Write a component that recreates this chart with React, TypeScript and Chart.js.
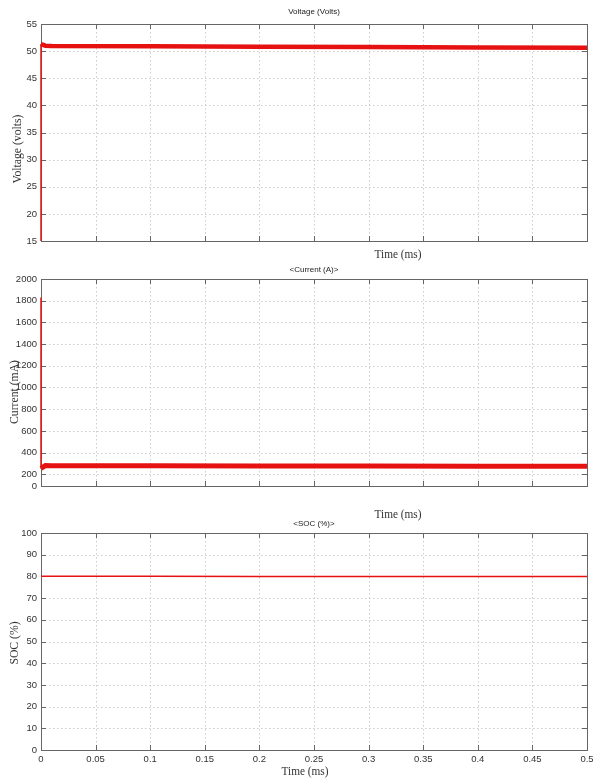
import React, { useEffect, useRef } from 'react';
import { Chart, registerables } from 'chart.js';

Chart.register(...registerables);

// ---- data ----
const timeTicks = [0, 0.05, 0.1, 0.15, 0.2, 0.25, 0.3, 0.35, 0.4, 0.45, 0.5];
const voltageTicks = [15, 20, 25, 30, 35, 40, 45, 50, 55];
const currentTicks = [0, 200, 400, 600, 800, 1000, 1200, 1400, 1600, 1800, 2000];
const socTicks = [0, 10, 20, 30, 40, 50, 60, 70, 80, 90, 100];

const voltageStartTime = [0, 0];
const voltageStartValues = [15, 51.3];
const voltageTime = [0, 0.004, 0.01, 0.1, 0.2, 0.3, 0.4, 0.5];
const voltageValues = [51.3, 51.0, 50.95, 50.9, 50.82, 50.75, 50.68, 50.6];

const currentStartTime = [0, 0];
const currentStartValues = [1830, 250];
const currentTime = [0, 0.004, 0.01, 0.1, 0.2, 0.3, 0.4, 0.5];
const currentValues = [255, 280, 279, 278, 277, 276, 275, 274];

const socTime = [0, 0.1, 0.2, 0.3, 0.4, 0.5];
const socValues = [80.05, 80.02, 80.0, 79.97, 79.94, 79.9];

const currentAxisMin = 92;

const W = 593;
const H = 781;
const RED = 'rgb(230,18,18)';
const SERIF = '"Liberation Serif", "Times New Roman", serif';
const SANS = '"Liberation Sans", Arial, sans-serif';

type Spec = {
  top: number;
  bottom: number;
  yMin: number;
  yMax: number;
  yTicks: number[];
  showX: boolean;
  title: string;
  titleY: number;
  yTitle: string;
  yTitleX: number;
  yTitleY: number;
  xTitle: string;
  xTitleX: number;
  xTitleY: number;
  datasets: any[];
};

function pts(xs: number[], ys: number[]) {
  return xs.map((x, i) => ({ x, y: ys[i] }));
}

function framePlugin(spec: Spec) {
  return {
    id: 'matlabFrame',
    beforeDatasetsDraw(chart: any) {
      const { ctx, chartArea } = chart;
      const { left, right, top, bottom } = chartArea;
      const xs = chart.scales.x;
      const ys = chart.scales.y;
      ctx.save();
      // dotted grid
      ctx.strokeStyle = '#cdcdcd';
      ctx.lineWidth = 1;
      ctx.setLineDash([1.5, 2.5]);
      timeTicks.forEach((t) => {
        const px = Math.round(xs.getPixelForValue(t)) + 0.5;
        if (px <= left + 1 || px >= right - 1) return;
        ctx.beginPath();
        ctx.moveTo(px, top);
        ctx.lineTo(px, bottom);
        ctx.stroke();
      });
      ys.ticks.forEach((tk: any) => {
        const py = Math.round(ys.getPixelForValue(tk.value)) + 0.5;
        if (py <= top + 1 || py >= bottom - 1) return;
        ctx.beginPath();
        ctx.moveTo(left, py);
        ctx.lineTo(right, py);
        ctx.stroke();
      });
      ctx.setLineDash([]);
      // box
      ctx.strokeStyle = '#666';
      ctx.lineWidth = 1;
      ctx.strokeRect(Math.round(left) + 0.5, Math.round(top) + 0.5, Math.round(right - left), Math.round(bottom - top));
      // inward ticks
      const tl = 5;
      ctx.beginPath();
      timeTicks.forEach((t) => {
        const px = Math.round(xs.getPixelForValue(t)) + 0.5;
        if (px <= left + 1 || px >= right - 1) return;
        ctx.moveTo(px, bottom);
        ctx.lineTo(px, bottom - tl);
        ctx.moveTo(px, top);
        ctx.lineTo(px, top + tl);
      });
      ys.ticks.forEach((tk: any) => {
        const py = Math.round(ys.getPixelForValue(tk.value)) + 0.5;
        if (py <= top + 1 || py >= bottom - 1) return;
        ctx.moveTo(left, py);
        ctx.lineTo(left + tl, py);
        ctx.moveTo(right, py);
        ctx.lineTo(right - tl, py);
      });
      ctx.stroke();
      ctx.restore();
    },
    afterDraw(chart: any) {
      const { ctx, chartArea } = chart;
      const cx = (chartArea.left + chartArea.right) / 2;
      ctx.save();
      ctx.fillStyle = '#222';
      ctx.textAlign = 'center';
      ctx.textBaseline = 'middle';
      ctx.font = `8px ${SANS}`;
      ctx.fillText(spec.title, cx, spec.titleY);
      ctx.font = `13px ${SERIF}`;
      ctx.fillStyle = '#333';
      ctx.save();
      ctx.translate(spec.xTitleX, spec.xTitleY);
      ctx.scale(0.87, 1);
      ctx.fillText(spec.xTitle, 0, 0);
      ctx.restore();
      ctx.translate(spec.yTitleX, spec.yTitleY);
      ctx.rotate(-Math.PI / 2);
      ctx.scale(0.9, 1);
      ctx.fillText(spec.yTitle, 0, 0);
      ctx.restore();
    },
  };
}

function makeConfig(spec: Spec): any {
  const xH = spec.showX ? 20 : 0;
  return {
    type: 'line',
    data: { datasets: spec.datasets },
    options: {
      responsive: false,
      animation: false,
      events: [],
      layout: {
        padding: { left: 0, right: W - 587, top: spec.top, bottom: H - spec.bottom - xH },
      },
      plugins: {
        legend: { display: false },
        tooltip: { enabled: false },
        title: { display: false },
      },
      scales: {
        x: {
          type: 'linear',
          min: 0,
          max: 0.5,
          grid: { display: false, drawTicks: false },
          border: { display: false },
          afterBuildTicks: (s: any) => {
            s.ticks = timeTicks.map((v) => ({ value: v }));
          },
          afterFit: (s: any) => {
            s.height = xH;
            s.paddingLeft = 0;
            s.paddingRight = 0;
          },
          ticks: {
            display: spec.showX,
            autoSkip: false,
            maxRotation: 0,
            padding: 4,
            color: '#333',
            font: { family: SANS, size: 9.5 },
            callback: (_v: any, i: number) => String(timeTicks[i]),
          },
        },
        y: {
          type: 'linear',
          min: spec.yMin,
          max: spec.yMax,
          grid: { display: false, drawTicks: false },
          border: { display: false },
          afterBuildTicks: (s: any) => {
            s.ticks = spec.yTicks.map((v) => ({ value: Math.max(v, spec.yMin) }));
          },
          afterFit: (s: any) => {
            s.width = 41;
            s.paddingTop = 0;
            s.paddingBottom = 0;
          },
          ticks: {
            autoSkip: false,
            padding: 4,
            color: '#333',
            font: { family: SANS, size: 9.5 },
            callback: (_v: any, i: number) => String(spec.yTicks[i]),
          },
        },
      },
    },
    plugins: [framePlugin(spec)],
  };
}

const thin = (data: any[]) => ({
  data,
  borderColor: RED,
  borderWidth: 1.5,
  pointRadius: 0,
  tension: 0,
  clip: 3,
});
const thick = (data: any[], w: number) => ({
  data,
  borderColor: RED,
  borderWidth: w,
  pointRadius: 0,
  tension: 0,
  borderCapStyle: 'butt',
  clip: 3,
});

const specs: Spec[] = [
  {
    top: 24,
    bottom: 241,
    yMin: 15,
    yMax: 55,
    yTicks: voltageTicks,
    showX: false,
    title: 'Voltage (Volts)',
    titleY: 12,
    yTitle: 'Voltage (volts)',
    yTitleX: 18,
    yTitleY: 149,
    xTitle: 'Time (ms)',
    xTitleX: 398,
    xTitleY: 255,
    datasets: [thin(pts(voltageStartTime, voltageStartValues)), thick(pts(voltageTime, voltageValues), 4.5)],
  },
  {
    top: 279,
    bottom: 486,
    yMin: currentAxisMin,
    yMax: 2000,
    yTicks: currentTicks,
    showX: false,
    title: '<Current (A)>',
    titleY: 270,
    yTitle: 'Current (mA)',
    yTitleX: 15,
    yTitleY: 392,
    xTitle: 'Time (ms)',
    xTitleX: 398,
    xTitleY: 515,
    datasets: [thin(pts(currentStartTime, currentStartValues)), thick(pts(currentTime, currentValues), 5)],
  },
  {
    top: 533,
    bottom: 750,
    yMin: 0,
    yMax: 100,
    yTicks: socTicks,
    showX: true,
    title: '<SOC (%)>',
    titleY: 524,
    yTitle: 'SOC (%)',
    yTitleX: 15,
    yTitleY: 643,
    xTitle: 'Time (ms)',
    xTitleX: 305,
    xTitleY: 772,
    datasets: [thin(pts(socTime, socValues))],
  },
];

function Panel({ spec }: { spec: Spec }) {
  const ref = useRef<HTMLCanvasElement | null>(null);
  useEffect(() => {
    if (!ref.current) return;
    const chart = new Chart(ref.current, makeConfig(spec));
    return () => chart.destroy();
  }, [spec]);
  return (
    <canvas
      ref={ref}
      width={W}
      height={H}
      style={{ position: 'absolute', left: 0, top: 0, width: W, height: H }}
    />
  );
}

export default function App() {
  return (
    <div style={{ position: 'absolute', left: 0, top: 0, width: W, height: H, background: '#fff' }}>
      {specs.map((s, i) => (
        <Panel key={i} spec={s} />
      ))}
    </div>
  );
}
